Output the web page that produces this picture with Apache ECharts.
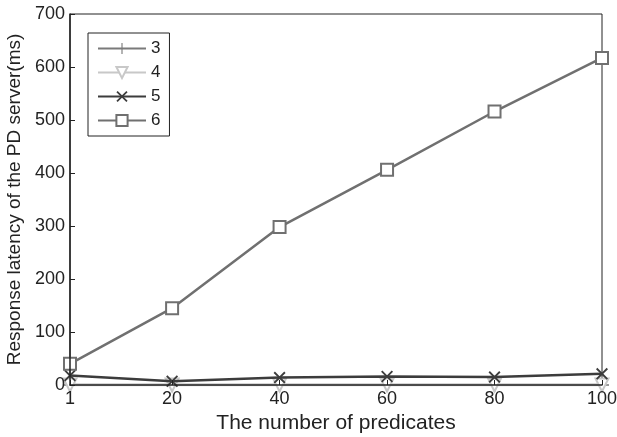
<!DOCTYPE html>
<html>
<head>
<meta charset="utf-8">
<script src="https://cdn.jsdelivr.net/npm/echarts@6/dist/echarts.min.js"></script>
<style>
html,body{margin:0;padding:0;background:#fff;}
#chart{width:617px;height:437px;}
</style>
</head>
<body>
<div id="chart"></div>
<script>
var xValues = [1, 20, 40, 60, 80, 100];
var xTickLabels = [1, 20, 40, 60, 80, 100];
var s3 = [0, 0, 0, 0, 0, 0];
var s4 = [0, 0, 0, 0, 0, 0];
var s5 = [18, 7, 14, 16, 15, 21];
var s6 = [40, 145, 298, 406, 516, 617];
var seriesNames = ['3', '4', '5', '6'];

function pairs(vals) { return xValues.map(function (x, i) { return [x, vals[i]]; }); }

var plusPath = 'path://M-1,-10 L1,-10 L1,-1 L10,-1 L10,1 L1,1 L1,10 L-1,10 L-1,1 L-10,1 L-10,-1 L-1,-1 Z';
var xPath = 'path://M-9,-7 L-7,-9 L0,-2 L7,-9 L9,-7 L2,0 L9,7 L7,9 L0,2 L-7,9 L-9,7 L-2,0 Z';

var font = 'Liberation Sans, Arial, sans-serif';
var chart = echarts.init(document.getElementById('chart'), null, {renderer: 'canvas'});
chart.setOption({
  animation: false,
  backgroundColor: '#fff',
  textStyle: {fontFamily: font},
  grid: {left: 70, right: 15, top: 14, bottom: 52, show: true, borderColor: '#222', borderWidth: 1,
         containLabel: false, outerBoundsMode: 'none'},
  legend: {
    orient: 'vertical', left: 88, top: 33,
    backgroundColor: '#fff', borderColor: '#222', borderWidth: 1,
    padding: [7, 9, 7, 9], itemGap: 7, itemWidth: 48, itemHeight: 14,
    textStyle: {fontSize: 17, color: '#222', fontFamily: font, lineHeight: 17},
    data: seriesNames
  },
  xAxis: {
    type: 'value', min: 1, max: 100, z: 10,
    name: 'The number of predicates', nameLocation: 'middle', nameGap: 27,
    nameTextStyle: {fontSize: 21, color: '#222', fontFamily: font},
    axisLine: {show: true, lineStyle: {color: '#222', width: 1.5}},
    axisTick: {show: true, inside: true, length: 5, customValues: xTickLabels, lineStyle: {color: '#222'}},
    axisLabel: {customValues: xTickLabels, fontSize: 18, color: '#222', margin: 5, fontFamily: font},
    splitLine: {show: false}
  },
  yAxis: {
    type: 'value', min: 0, max: 700, interval: 100, z: 10,
    name: 'Response latency of the PD server(ms)', nameLocation: 'middle', nameGap: 44,
    nameTextStyle: {fontSize: 19, color: '#222', fontFamily: font},
    axisLine: {show: true, lineStyle: {color: '#222', width: 1.5}},
    axisTick: {show: true, inside: true, length: 5, lineStyle: {color: '#222'}},
    axisLabel: {fontSize: 18, color: '#222', margin: 5, fontFamily: font},
    splitLine: {show: false}
  },
  series: [
    {name: '3', type: 'line', data: pairs(s3), symbol: plusPath, symbolSize: 14,
     lineStyle: {color: '#7a7a7a', width: 2.5}, itemStyle: {color: '#7a7a7a'}, z: 2},
    {name: '4', type: 'line', data: pairs(s4), symbol: 'triangle', symbolRotate: 180, symbolSize: 13,
     lineStyle: {color: '#c8c8c8', width: 2.5}, itemStyle: {color: '#fff', borderColor: '#c8c8c8', borderWidth: 2}, z: 3},
    {name: '5', type: 'line', data: pairs(s5), symbol: xPath, symbolSize: 12,
     lineStyle: {color: '#3c3c3c', width: 2.5}, itemStyle: {color: '#3c3c3c'}, z: 4},
    {name: '6', type: 'line', data: pairs(s6), symbol: 'rect', symbolSize: 12,
     lineStyle: {color: '#707070', width: 2.5}, itemStyle: {color: '#fff', borderColor: '#707070', borderWidth: 2}, z: 5}
  ]
});
</script>
</body>
</html>
